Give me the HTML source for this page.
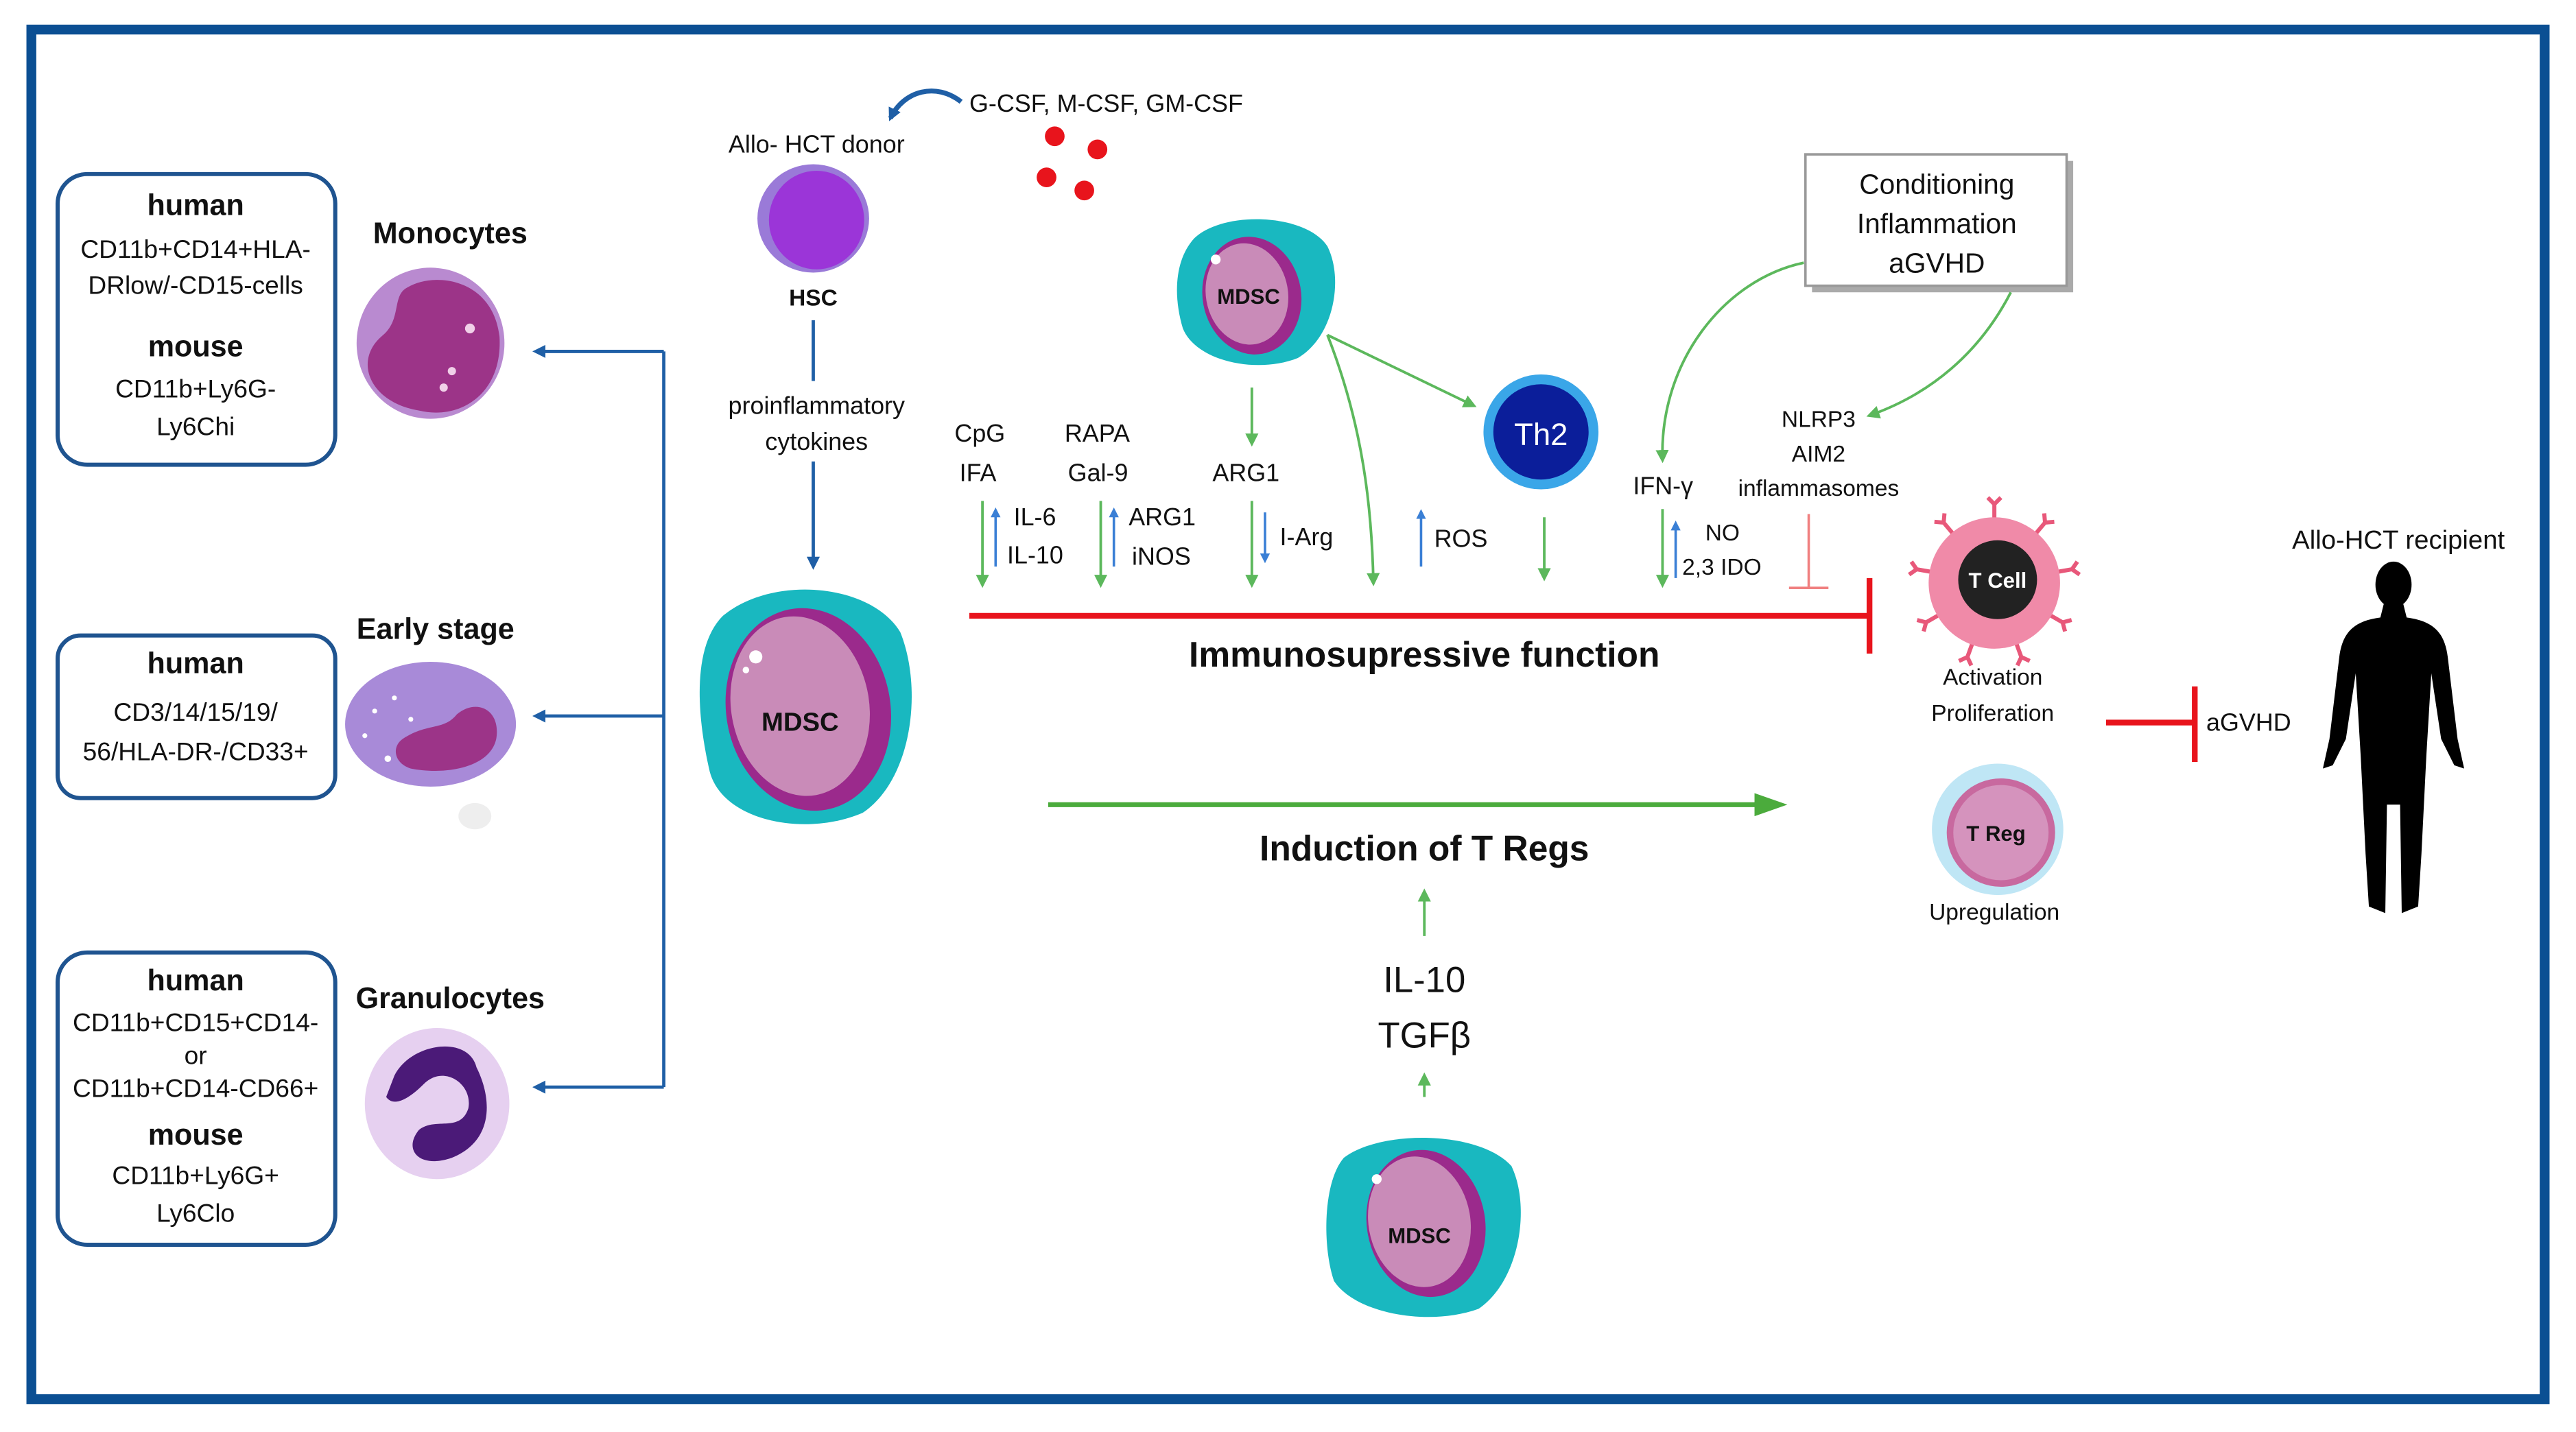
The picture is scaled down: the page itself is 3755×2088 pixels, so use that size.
<!DOCTYPE html>
<html><head><meta charset="utf-8"><style>
html,body{margin:0;padding:0;background:#fff;}
svg{display:block;}
text{font-family:"Liberation Sans",sans-serif;fill:#111;}
</style></head><body>
<svg width="3755" height="2088" viewBox="0 0 1568 872" xmlns="http://www.w3.org/2000/svg">
<defs>
<marker id="ab" markerWidth="8" markerHeight="8" refX="6" refY="4" orient="auto" markerUnits="userSpaceOnUse"><path d="M0,0 L8,4 L0,8 z" fill="#1f5fa6"/></marker>
<marker id="ag" markerWidth="8" markerHeight="8" refX="6" refY="4" orient="auto" markerUnits="userSpaceOnUse"><path d="M0,0 L8,4 L0,8 z" fill="#5cb85c"/></marker>
<marker id="abl" markerWidth="6" markerHeight="6" refX="3" refY="3" orient="auto" markerUnits="userSpaceOnUse"><path d="M0,0 L6,3 L0,6 z" fill="#3a7fd5"/></marker>
<g id="rec"><path d="M0,0 V-10 M0,-10 L-4,-14 M0,-10 L4,-14" stroke="#e8587a" stroke-width="2.5" fill="none"/></g>
</defs>
<rect x="0" y="0" width="1568" height="872" fill="#fff"/>
<rect x="19" y="18" width="1530" height="834" fill="none" stroke="#0b4f93" stroke-width="6"/>

<g fill="none" stroke="#1f5490" stroke-width="2.5">
<rect x="35" y="106" width="169" height="177" rx="18"/>
<rect x="35" y="387" width="169" height="99" rx="14"/>
<rect x="35" y="580" width="169" height="178" rx="18"/>
</g>
<g text-anchor="middle" font-size="15.5">
<text x="119" y="131" font-weight="bold" font-size="18">human</text>
<text x="119" y="157">CD11b+CD14+HLA-</text>
<text x="119" y="179">DRlow/-CD15-cells</text>
<text x="119" y="217" font-weight="bold" font-size="18">mouse</text>
<text x="119" y="242">CD11b+Ly6G-</text>
<text x="119" y="265">Ly6Chi</text>
<text x="119" y="410" font-weight="bold" font-size="18">human</text>
<text x="119" y="439">CD3/14/15/19/</text>
<text x="119" y="463">56/HLA-DR-/CD33+</text>
<text x="119" y="603" font-weight="bold" font-size="18">human</text>
<text x="119" y="628">CD11b+CD15+CD14-</text>
<text x="119" y="648">or</text>
<text x="119" y="668">CD11b+CD14-CD66+</text>
<text x="119" y="697" font-weight="bold" font-size="18">mouse</text>
<text x="119" y="721">CD11b+Ly6G+</text>
<text x="119" y="744">Ly6Clo</text>
<text x="274" y="148" font-weight="bold" font-size="18">Monocytes</text>
<text x="265" y="389" font-weight="bold" font-size="18">Early stage</text>
<text x="274" y="614" font-weight="bold" font-size="18">Granulocytes</text>
</g>
<ellipse cx="262" cy="209" rx="45" ry="46" fill="#b98ad0"/>
<path d="M248,175 C265,165 300,170 304,205 C306,240 280,256 255,250 C225,245 215,220 232,205 C245,195 238,180 248,175z" fill="#9c3488"/>
<circle cx="286" cy="200" r="3" fill="#f0d0e8"/><circle cx="275" cy="226" r="2.5" fill="#f0d0e8"/><circle cx="270" cy="236" r="2.5" fill="#f0d0e8"/>
<ellipse cx="262" cy="441" rx="52" ry="38" fill="#a88ad8"/>
<path d="M245,450 C260,440 270,445 278,435 C290,425 305,432 302,450 C298,468 270,472 250,468 C240,465 238,455 245,450z" fill="#9c3488"/>
<g fill="#fff"><circle cx="228" cy="433" r="1.5"/><circle cx="240" cy="425" r="1.5"/><circle cx="250" cy="438" r="1.5"/><circle cx="236" cy="462" r="2"/><circle cx="222" cy="448" r="1.5"/></g>
<ellipse cx="289" cy="497" rx="10" ry="8" fill="#eee"/>
<ellipse cx="266" cy="672" rx="44" ry="46" fill="#e6d0f0"/>
<path d="M240,655 C250,635 285,630 290,650 C300,670 300,695 275,705 C255,712 245,700 255,688 C265,680 280,690 285,675 C288,660 270,648 258,660 C250,668 240,675 235,668 Z" fill="#4b1a78"/>

<g stroke="#1f5fa6" stroke-width="2" fill="none">
<path d="M404,214 V662"/>
<path d="M404,214 H326" marker-end="url(#ab)"/>
<path d="M404,436 H326" marker-end="url(#ab)"/>
<path d="M404,662 H326" marker-end="url(#ab)"/>
<path d="M495,195 V232"/>
<path d="M495,281 V345" marker-end="url(#ab)"/>
<path d="M585,62 C570,50 550,55 542,72" stroke-width="3" marker-end="url(#ab)"/>
</g>
<text x="497" y="93" font-size="15" text-anchor="middle">Allo- HCT donor</text>
<ellipse cx="495" cy="133" rx="34" ry="33" fill="#9a7ad8"/>
<ellipse cx="497" cy="134" rx="29" ry="30" fill="#9b35d8"/>
<text x="495" y="186" font-size="14" font-weight="bold" text-anchor="middle">HSC</text>
<text x="497" y="252" font-size="15" text-anchor="middle">proinflammatory</text>
<text x="497" y="274" font-size="15" text-anchor="middle">cytokines</text>
<text x="590" y="68" font-size="15">G-CSF, M-CSF, GM-CSF</text>
<g fill="#e8141c"><circle cx="642" cy="83" r="6"/><circle cx="668" cy="91" r="6"/><circle cx="637" cy="108" r="6"/><circle cx="660" cy="116" r="6"/></g>

<path d="M440,375 C470,350 530,355 548,385 C562,420 555,475 525,495 C490,510 440,500 432,470 C425,440 420,395 440,375z" fill="#19b8c0"/>
<ellipse cx="492" cy="432" rx="50" ry="62" fill="#9b2a8c" transform="rotate(-10 492 432)"/>
<ellipse cx="487" cy="430" rx="42" ry="55" fill="#c98bb8" transform="rotate(-10 487 430)"/>
<circle cx="460" cy="400" r="4" fill="#fff"/><circle cx="454" cy="408" r="2" fill="#fff"/>
<text x="487" y="445" font-size="16" font-weight="bold" text-anchor="middle">MDSC</text>

<path d="M727,145 C745,128 795,130 808,150 C818,170 812,205 790,218 C765,228 728,220 720,200 C714,180 715,158 727,145z" fill="#19b8c0"/>
<ellipse cx="762" cy="180" rx="30" ry="36" fill="#9b2a8c" transform="rotate(-10 762 180)"/>
<ellipse cx="759" cy="179" rx="25" ry="31" fill="#c98bb8" transform="rotate(-10 759 179)"/>
<circle cx="740" cy="158" r="3" fill="#fff"/>
<text x="760" y="185" font-size="13" font-weight="bold" text-anchor="middle">MDSC</text>

<path d="M818,705 C840,688 900,688 920,710 C932,735 925,780 900,797 C870,808 825,800 812,780 C805,760 805,720 818,705z" fill="#19b8c0"/>
<ellipse cx="868" cy="745" rx="36" ry="45" fill="#9b2a8c" transform="rotate(-10 868 745)"/>
<ellipse cx="864" cy="744" rx="31" ry="40" fill="#c98bb8" transform="rotate(-10 864 744)"/>
<circle cx="838" cy="718" r="3" fill="#fff"/>
<text x="864" y="757" font-size="13" font-weight="bold" text-anchor="middle">MDSC</text>

<circle cx="938" cy="263" r="35" fill="#3aa6e8"/>
<circle cx="938" cy="263" r="29" fill="#0b1e9a"/>
<text x="938" y="271" font-size="19" text-anchor="middle" style="fill:#fff">Th2</text>

<rect x="1103" y="98" width="159" height="80" fill="#aaa"/>
<rect x="1099" y="94" width="159" height="80" fill="#fff" stroke="#999" stroke-width="1.5"/>
<g font-size="17" text-anchor="middle"><text x="1179" y="118">Conditioning</text><text x="1179" y="142">Inflammation</text><text x="1179" y="166">aGVHD</text></g>

<g stroke="#5cb85c" stroke-width="1.6" fill="none">
<path d="M808,204 L897,247" marker-end="url(#ag)"/>
<path d="M808,204 C830,260 835,310 836,355" marker-end="url(#ag)"/>
<path d="M762,236 V270" marker-end="url(#ag)"/>
<path d="M1098,160 C1050,170 1010,220 1012,280" marker-end="url(#ag)"/>
<path d="M1224,178 C1205,215 1175,240 1138,253" marker-end="url(#ag)"/>
<path d="M598,305 V356" marker-end="url(#ag)"/>
<path d="M670,305 V356" marker-end="url(#ag)"/>
<path d="M762,305 V356" marker-end="url(#ag)"/>
<path d="M940,315 V352" marker-end="url(#ag)"/>
<path d="M1012,310 V356" marker-end="url(#ag)"/>
<path d="M867,570 V543" marker-end="url(#ag)"/>
<path d="M867,668 V655" marker-end="url(#ag)"/>
</g>
<path d="M638,490 H1075" stroke="#4bab3c" stroke-width="3"/>
<path d="M1068,483 L1088,490 L1068,497z" fill="#4bab3c"/>
<g stroke="#3a7fd5" stroke-width="1.5" fill="none">
<path d="M606,345 V312" marker-end="url(#abl)"/>
<path d="M678,345 V312" marker-end="url(#abl)"/>
<path d="M770,312 V340" marker-end="url(#abl)"/>
<path d="M865,345 V313" marker-end="url(#abl)"/>
<path d="M1020,352 V320" marker-end="url(#abl)"/>
</g>
<g font-size="15">
<text x="581" y="269">CpG</text><text x="584" y="293">IFA</text>
<text x="648" y="269">RAPA</text><text x="650" y="293">Gal-9</text>
<text x="738" y="293">ARG1</text>
<text x="617" y="320">IL-6</text><text x="613" y="343">IL-10</text>
<text x="687" y="320">ARG1</text><text x="689" y="344">iNOS</text>
<text x="779" y="332">I-Arg</text>
<text x="873" y="333">ROS</text>
<text x="994" y="301">IFN-γ</text>
<text x="1038" y="329" font-size="14">NO</text><text x="1024" y="350" font-size="14">2,3 IDO</text>
</g>
<g font-size="14" text-anchor="middle"><text x="1107" y="260">NLRP3</text><text x="1107" y="281">AIM2</text><text x="1107" y="302">inflammasomes</text></g>
<path d="M1101,313 V358 M1089,358 H1113" stroke="#f08080" stroke-width="1.5"/>
<path d="M590,375 H1138 M1138,352 V398" stroke="#e8141c" stroke-width="3.5"/>
<path d="M1282,440 H1336 M1336,418 V464" stroke="#e8141c" stroke-width="3.5"/>
<text x="867" y="406" font-size="21.5" font-weight="bold" text-anchor="middle">Immunosupressive function</text>
<text x="867" y="524" font-size="21.5" font-weight="bold" text-anchor="middle">Induction of T Regs</text>
<text x="867" y="604" font-size="22" text-anchor="middle">IL-10</text>
<text x="867" y="638" font-size="22" text-anchor="middle">TGFβ</text>

<g transform="translate(1214,355)">
<use href="#rec" transform="rotate(0) translate(0,-38)"/>
<use href="#rec" transform="rotate(40) translate(0,-38)"/>
<use href="#rec" transform="rotate(80) translate(0,-38)"/>
<use href="#rec" transform="rotate(120) translate(0,-38)"/>
<use href="#rec" transform="rotate(160) translate(0,-38)"/>
<use href="#rec" transform="rotate(200) translate(0,-38)"/>
<use href="#rec" transform="rotate(240) translate(0,-38)"/>
<use href="#rec" transform="rotate(280) translate(0,-38)"/>
<use href="#rec" transform="rotate(320) translate(0,-38)"/>
</g>
<circle cx="1214" cy="355" r="40" fill="#f08aa8"/>
<circle cx="1216" cy="353" r="24" fill="#222"/>
<text x="1216" y="358" font-size="13" font-weight="bold" text-anchor="middle" style="fill:#fff">T Cell</text>
<text x="1213" y="417" font-size="14" text-anchor="middle">Activation</text>
<text x="1213" y="439" font-size="14" text-anchor="middle">Proliferation</text>
<circle cx="1216" cy="505" r="40" fill="#bfe6f5"/>
<circle cx="1218" cy="507" r="33" fill="#c8699f"/>
<circle cx="1218" cy="507" r="29" fill="#d593bd"/>
<text x="1215" y="512" font-size="13" font-weight="bold" text-anchor="middle">T Reg</text>
<text x="1214" y="560" font-size="14" text-anchor="middle">Upregulation</text>
<text x="1343" y="445" font-size="15">aGVHD</text>
<text x="1460" y="334" font-size="16" text-anchor="middle">Allo-HCT recipient</text>
<g fill="#000">
<ellipse cx="1457" cy="356" rx="11" ry="14"/>
<path d="M1451,368 H1463 L1465,376 C1480,378 1488,384 1490,400 L1496,450 L1500,468 L1494,466 L1486,450 L1480,410 L1477,460 L1474,520 L1472,552 L1462,556 L1461,490 H1453 L1452,556 L1442,552 L1440,520 L1437,460 L1434,410 L1428,450 L1420,466 L1414,468 L1418,450 L1424,400 C1426,384 1434,378 1449,376 Z"/>
</g>
</svg>
</body></html>
